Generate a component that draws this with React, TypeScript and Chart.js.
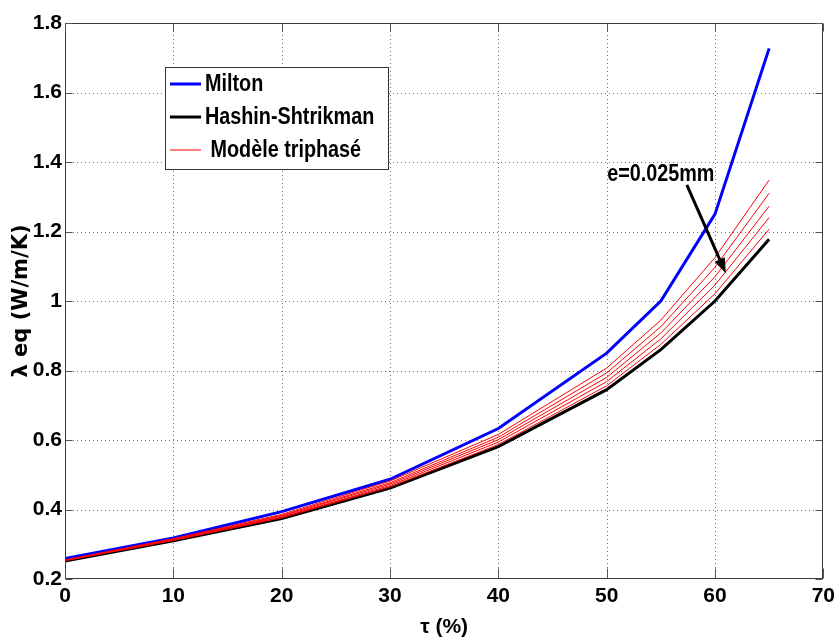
import React, { useEffect, useRef } from "react";
import { Chart, registerables } from "chart.js";

Chart.register(...registerables);

// ---- data ----
const tau = [0, 10, 20, 30, 40, 50, 55, 60, 65];
const milton = [0.259, 0.318, 0.394, 0.487, 0.633, 0.85, 1.0, 1.25, 1.727];
const hashinShtrikman = [0.252, 0.31, 0.374, 0.462, 0.581, 0.745, 0.86, 1.0, 1.178];
const triphase1 = [0.255, 0.316, 0.386, 0.482, 0.616, 0.807, 0.945, 1.125, 1.348];
const triphase2 = [0.254, 0.315, 0.383, 0.477, 0.608, 0.793, 0.926, 1.097, 1.31];
const triphase3 = [0.254, 0.313, 0.381, 0.473, 0.601, 0.78, 0.908, 1.07, 1.273];
const triphase4 = [0.253, 0.312, 0.378, 0.469, 0.594, 0.768, 0.891, 1.046, 1.24];
const triphase5 = [0.253, 0.311, 0.376, 0.465, 0.587, 0.756, 0.875, 1.021, 1.207];
const triphaseSeries = [triphase1, triphase2, triphase3, triphase4, triphase5];

const xTickValues = [0, 10, 20, 30, 40, 50, 60, 70];
const xTickLabels = ["0", "10", "20", "30", "40", "50", "60", "70"];
const yTickValues = [0.2, 0.4, 0.6, 0.8, 1.0, 1.2, 1.4, 1.6, 1.8];
const yTickLabels = ["0.2", "0.4", "0.6", "0.8", "1", "1.2", "1.4", "1.6", "1.8"];

const legendLabels = ["Milton", "Hashin-Shtrikman", " Modèle triphasé"];
const legendColors = ["#0000ff", "#000000", "#ff0000"];
const legendWidths = [3, 3, 1];
const annotationText = "e=0.025mm";
const annotationTextAt = { x: 55.0, y: 1.363 };
const arrowFrom = { x: 57.4, y: 1.334 };
const arrowTo = { x: 61.0, y: 1.08 };
const xTitle = "τ (%)";
const yTitle = "λ eq (W/m/K)";

const SANS = '"Liberation Sans", Arial, sans-serif';
const WIDE = '"DejaVu Sans", "Liberation Sans", sans-serif';

function condensedText(ctx: CanvasRenderingContext2D, text: string, x: number, y: number, sx: number) {
  ctx.save();
  ctx.translate(x, y);
  ctx.scale(sx, 1);
  ctx.fillText(text, 0, 0);
  ctx.restore();
}

export default function App() {
  const ref = useRef<HTMLCanvasElement>(null);

  useEffect(() => {
    document.body.style.margin = "0";
    const pts = (ys: number[]) => tau.map((x, i) => ({ x, y: ys[i] }));

    const decor = {
      id: "decor",
      beforeDatasetsDraw(chart: any) {
        const { ctx, chartArea: a, scales } = chart;
        const xs = scales.x;
        const ys = scales.y;
        ctx.save();
        ctx.strokeStyle = "#6e6e6e";
        ctx.lineWidth = 1;
        ctx.setLineDash([1, 3]);
        xTickValues.forEach((v) => {
          const px = Math.round(xs.getPixelForValue(v)) + 0.5;
          if (px <= a.left + 2 || px >= a.right - 2) return;
          ctx.beginPath();
          ctx.moveTo(px, a.top);
          ctx.lineTo(px, a.bottom);
          ctx.stroke();
        });
        yTickValues.forEach((v) => {
          const py = Math.round(ys.getPixelForValue(v)) + 0.5;
          if (py <= a.top + 2 || py >= a.bottom - 2) return;
          ctx.beginPath();
          ctx.moveTo(a.left, py);
          ctx.lineTo(a.right, py);
          ctx.stroke();
        });
        ctx.restore();
      },
      afterDatasetsDraw(chart: any) {
        const { ctx, chartArea: a, scales } = chart;
        const xs = scales.x;
        const ys = scales.y;
        ctx.save();
        // frame
        ctx.setLineDash([]);
        ctx.strokeStyle = "#3a3a3a";
        ctx.lineWidth = 1;
        const L = Math.round(a.left) + 0.5;
        const R = Math.round(a.right) - 0.5;
        const T = Math.round(a.top) + 0.5;
        const B = Math.round(a.bottom) - 0.5;
        ctx.strokeRect(L, T, R - L, B - T);
        // inner ticks
        ctx.strokeStyle = "#555";
        xTickValues.forEach((v) => {
          const px = Math.round(xs.getPixelForValue(v)) + 0.5;
          ctx.beginPath();
          ctx.moveTo(px, B);
          ctx.lineTo(px, B - 10);
          ctx.moveTo(px, T);
          ctx.lineTo(px, T + 8);
          ctx.stroke();
        });
        yTickValues.forEach((v) => {
          const py = Math.round(ys.getPixelForValue(v)) + 0.5;
          ctx.beginPath();
          ctx.moveTo(L, py);
          ctx.lineTo(L + 7, py);
          ctx.moveTo(R, py);
          ctx.lineTo(R - 7, py);
          ctx.stroke();
        });

        // legend box
        const bx = Math.round(a.left) + 100;
        const by = Math.round(a.top) + 44;
        const bw = 223;
        const bh = 102;
        ctx.fillStyle = "#ffffff";
        ctx.fillRect(bx, by, bw, bh);
        ctx.strokeStyle = "#333";
        ctx.lineWidth = 1;
        ctx.strokeRect(bx + 0.5, by + 0.5, bw, bh);
        ctx.font = `bold 23px ${SANS}`;
        ctx.textBaseline = "middle";
        ctx.textAlign = "left";
        legendLabels.forEach((label, i) => {
          const ly = by + 17 + i * 33;
          ctx.strokeStyle = legendColors[i];
          ctx.lineWidth = legendWidths[i];
          ctx.beginPath();
          ctx.moveTo(bx + 5, ly);
          ctx.lineTo(bx + 36, ly);
          ctx.stroke();
          ctx.fillStyle = "#000";
          condensedText(ctx, label, bx + 40, ly + 1, 0.86);
        });

        // annotation
        ctx.fillStyle = "#000";
        ctx.textAlign = "center";
        condensedText(ctx, annotationText, xs.getPixelForValue(annotationTextAt.x), ys.getPixelForValue(annotationTextAt.y), 0.86);
        const x1 = xs.getPixelForValue(arrowFrom.x);
        const y1 = ys.getPixelForValue(arrowFrom.y);
        const x2 = xs.getPixelForValue(arrowTo.x);
        const y2 = ys.getPixelForValue(arrowTo.y);
        const len = Math.hypot(x2 - x1, y2 - y1);
        const ux = (x2 - x1) / len;
        const uy = (y2 - y1) / len;
        const head = 15;
        const hw = 5.5;
        ctx.strokeStyle = "#000";
        ctx.lineWidth = 3;
        ctx.beginPath();
        ctx.moveTo(x1, y1);
        ctx.lineTo(x2 - ux * (head - 2), y2 - uy * (head - 2));
        ctx.stroke();
        ctx.beginPath();
        ctx.moveTo(x2, y2);
        ctx.lineTo(x2 - ux * head - uy * hw, y2 - uy * head + ux * hw);
        ctx.lineTo(x2 - ux * head + uy * hw, y2 - uy * head - ux * hw);
        ctx.closePath();
        ctx.fill();
        ctx.restore();
      },
    };

    const datasets: any[] = [];
    triphaseSeries.forEach((s, i) => {
      datasets.push({
        label: i === 0 ? legendLabels[2].trim() : `${legendLabels[2].trim()} ${i + 1}`,
        data: pts(s),
        borderColor: "#ff0000",
        borderWidth: 1,
        pointRadius: 0,
        fill: false,
        tension: 0,
        order: 0,
      });
    });
    datasets.push({
      label: legendLabels[0],
      data: pts(milton),
      borderColor: "#0000ff",
      borderWidth: 3,
      pointRadius: 0,
      fill: false,
      tension: 0,
      order: 1,
    });
    datasets.push({
      label: legendLabels[1],
      data: pts(hashinShtrikman),
      borderColor: "#000000",
      borderWidth: 3,
      pointRadius: 0,
      fill: false,
      tension: 0,
      order: 2,
    });

    const chart = new Chart(ref.current as HTMLCanvasElement, {
      type: "line",
      data: { datasets },
      options: {
        animation: false,
        responsive: false,
        maintainAspectRatio: false,
        layout: { padding: { left: 0, top: 23, right: 13, bottom: 0 } },
        plugins: {
          legend: { display: false },
          tooltip: { enabled: false },
        },
        scales: {
          x: {
            type: "linear",
            min: 0,
            max: 70,
            afterBuildTicks: (s: any) => {
              s.ticks = xTickValues.map((v) => ({ value: v }));
            },
            afterFit: (s: any) => {
              s.height = 58;
            },
            grid: { display: false, drawTicks: false },
            border: { display: false },
            ticks: {
              color: "#000",
              padding: 5,
              maxRotation: 0,
              autoSkip: false,
              callback: (_v: any, i: number) => xTickLabels[i],
              font: { family: SANS, size: 21, weight: "bold" },
            },
            title: {
              display: true,
              text: xTitle,
              color: "#000",
              padding: { top: 0, bottom: 0 },
              font: { family: SANS, size: 21, weight: "bold", lineHeight: "20px" },
            },
          },
          y: {
            type: "linear",
            min: 0.2,
            max: 1.8,
            afterBuildTicks: (s: any) => {
              s.ticks = yTickValues.map((v) => ({ value: v }));
            },
            afterFit: (s: any) => {
              s.width = 65;
            },
            grid: { display: false, drawTicks: false },
            border: { display: false },
            ticks: {
              color: "#000",
              padding: 3,
              autoSkip: false,
              callback: (_v: any, i: number) => yTickLabels[i],
              font: { family: SANS, size: 21, weight: "bold" },
            },
            title: {
              display: true,
              text: yTitle,
              color: "#000",
              padding: { top: 11, bottom: 0 },
              font: { family: WIDE, size: 21, weight: "bold", lineHeight: "22px" },
            },
          },
        },
      },
      plugins: [decor],
    } as any);

    return () => chart.destroy();
  }, []);

  return <canvas ref={ref} width={840} height={637} style={{ display: "block" }} />;
}
